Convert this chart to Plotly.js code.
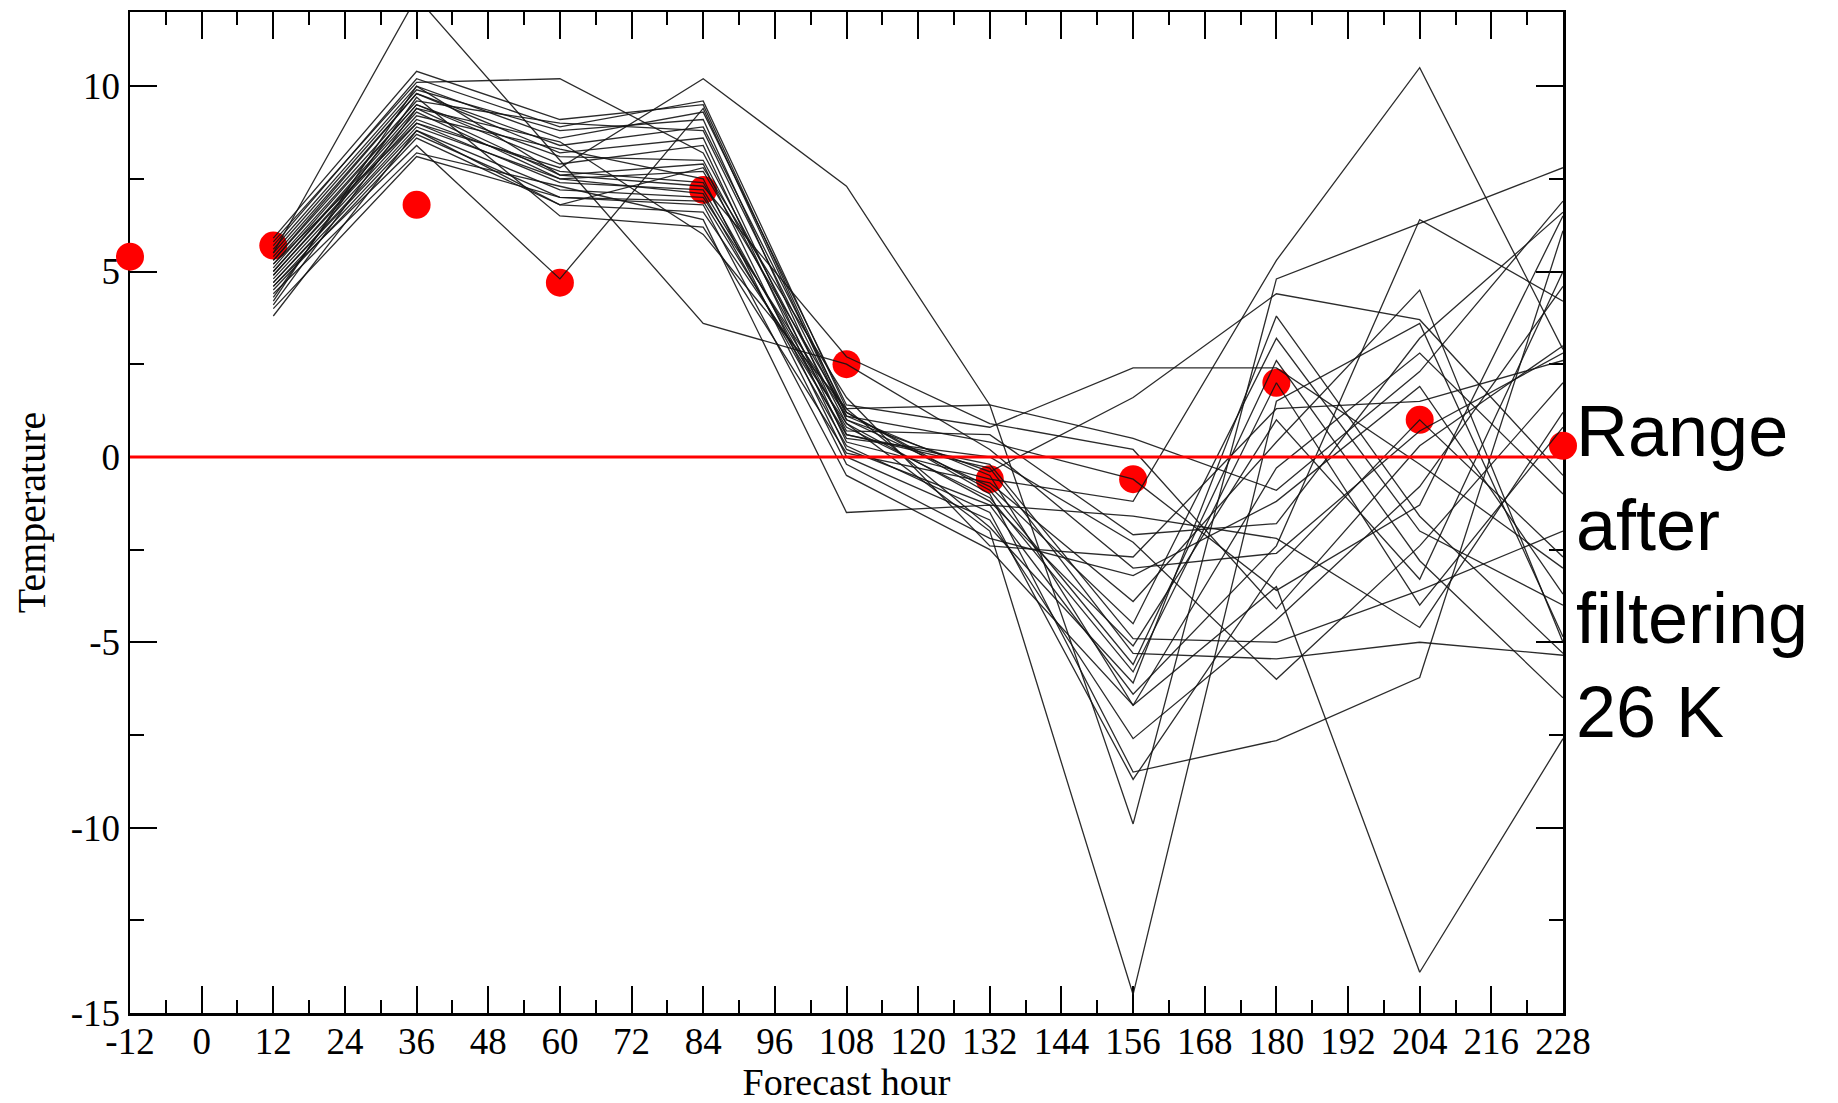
<!DOCTYPE html>
<html>
<head>
<meta charset="utf-8">
<script src="https://cdn.plot.ly/plotly-3.0.1.min.js"></script>
<style>html,body{margin:0;padding:0;background:#fff;}#chart{width:1838px;height:1103px;}</style>
</head>
<body>
<div id="chart"></div>
<script>
// Forecast hours of the ensemble members
const memberHours = [12, 36, 60, 84, 108, 132, 156, 180, 204, 228];
// Ensemble members (temperature at each forecast hour)
const m01 = [5.5, 12.4, 8.0, 3.6, 2.5, 0.2, -3.0, -2.6, 0.7, 2.8];
const m02 = [5.2, 9.0, 7.8, 10.2, 7.3, 1.4, -9.9, 4.8, 6.3, 7.8];
const m03 = [4.6, 8.4, 4.8, 9.4, 1.0, -0.8, -4.5, 3.2, -2.0, -4.0];
const m04 = [5.9, 10.4, 9.1, 9.5, 1.1, -0.5, -6.7, -3.5, -13.9, -7.6];
const m05 = [5.8, 10.1, 10.2, 8.2, 0.9, -2.0, -14.5, 1.5, 3.6, -4.85];
const m06 = [5.7, 10.2, 8.9, 9.6, 1.3, 1.4, 0.5, -0.9, 2.3, 6.9];
const m07 = [5.6, 10.0, 8.6, 9.3, 1.4, 0.8, 2.4, 2.4, -0.2, -3.0];
const m08 = [5.5, 9.9, 8.8, 9.1, 0.6, -0.3, -5.3, -5.45, -5.0, -5.35];
const m09 = [5.4, 9.8, 8.4, 8.9, 1.2, -1.0, -8.5, -7.65, -5.95, 6.1];
const m10 = [5.3, 9.8, 8.2, 8.6, 0.4, -0.6, -1.2, 5.3, 10.5, 2.9];
const m11 = [5.3, 9.6, 9.0, 8.8, 1.0, -0.4, 1.6, 4.4, 3.7, -0.5];
const m12 = [5.2, 9.5, 7.9, 8.4, 0.2, -1.3, -6.4, -2.4, 6.4, 4.2];
const m13 = [5.1, 9.5, 8.1, 8.0, 0.7, 0.6, -2.1, -1.8, 3.2, 6.6];
const m14 = [5.0, 9.4, 7.6, 7.9, 0.0, -1.7, -7.6, -4.4, -0.8, 4.6];
const m15 = [5.0, 9.3, 7.5, 7.7, 1.2, -0.9, -5.6, 2.6, -2.8, -6.5];
const m16 = [4.9, 9.2, 8.3, 7.5, -0.2, -2.2, -3.2, -1.2, 1.9, -3.7];
const m17 = [4.9, 9.1, 7.7, 7.4, 0.5, 0.0, -2.3, -6.0, -2.4, 2.0];
const m18 = [4.8, 9.0, 7.4, 7.2, 0.8, -1.1, -5.8, 2.0, -4.0, 0.8];
const m19 = [4.7, 8.9, 7.5, 7.1, 0.3, -1.5, -8.7, -3.0, 1.0, -2.7];
const m20 = [4.7, 8.8, 7.2, 7.0, 1.1, 0.4, -0.6, -3.6, -1.3, 6.5];
const m21 = [4.6, 8.7, 7.0, 6.8, -0.5, -2.5, -6.7, -0.3, 2.8, -1.0];
const m22 = [4.5, 8.6, 6.8, 6.6, 0.9, -1.2, -5.1, 1.0, -3.3, 5.0];
const m23 = [4.4, 8.2, 7.3, 6.4, -1.5, -1.3, -1.6, -2.2, -4.6, 1.2];
const m24 = [4.3, 9.7, 6.5, 6.2, 0.1, -0.7, -3.9, 0.4, 4.5, -5.0];
const m25 = [4.2, 10.0, 7.6, 7.3, 2.7, 0.9, 0.2, -4.1, 0.3, 3.0];
const m26 = [4.1, 9.4, 8.5, 6.0, 1.3, -1.9, -6.1, 3.8, -1.6, -5.3];
const m27 = [4.0, 8.1, 7.0, 6.9, 0.6, -0.2, -4.9, -5.0, -3.6, -2.0];
const m28 = [3.8, 8.8, 6.8, 7.8, 1.6, -2.4, -2.7, 1.3, 1.5, 2.6];
const members = [m01, m02, m03, m04, m05, m06, m07, m08, m09, m10, m11, m12, m13, m14,
                 m15, m16, m17, m18, m19, m20, m21, m22, m23, m24, m25, m26, m27, m28];

// Observations (red dots)
const obsHours = [-12, 12, 36, 60, 84, 108, 132, 156, 180, 204, 228];
const obsTemp = [5.4, 5.7, 6.8, 4.7, 7.2, 2.5, -0.6, -0.6, 2.0, 1.0, 0.3];

// Zero reference line
const zeroHours = [-12, 228];
const zeroTemp = [0, 0];

// Tick labels
const xTickVals = [-12, 0, 12, 24, 36, 48, 60, 72, 84, 96, 108, 120, 132, 144, 156, 168, 180, 192, 204, 216, 228];
const xTickText = ["-12", "0", "12", "24", "36", "48", "60", "72", "84", "96", "108", "120", "132", "144", "156", "168", "180", "192", "204", "216", "228"];
const yTickVals = [-15, -10, -5, 0, 5, 10];
const yTickText = ["-15", "-10", "-5", "0", "5", "10"];

const annotationText = "Range<br>after<br>filtering<br>26 K";

const traces = [];
traces.push({
  x: obsHours, y: obsTemp, type: 'scatter', mode: 'markers',
  marker: {color: '#ff0000', size: 28, line: {width: 0}},
  cliponaxis: false, showlegend: false, hoverinfo: 'x+y'
});
members.forEach(function (m, i) {
  traces.push({
    x: memberHours, y: m, type: 'scatter', mode: 'lines',
    line: {color: 'rgba(20,20,20,0.9)', width: 1.3},
    showlegend: false, name: 'member ' + (i + 1)
  });
});
traces.push({
  x: zeroHours, y: zeroTemp, type: 'scatter', mode: 'lines',
  line: {color: '#ff0000', width: 3}, showlegend: false, hoverinfo: 'skip'
});

const tickFont = {family: '"Liberation Serif", "Times New Roman", serif', size: 37, color: '#000'};
const titleFont = {family: '"Liberation Serif", "Times New Roman", serif', size: 40, color: '#000'};
const xTitleFont = {family: '"Liberation Serif", "Times New Roman", serif', size: 38, color: '#000'};

const layout = {
  width: 1838, height: 1103,
  margin: {l: 130, r: 275, t: 12, b: 90, pad: 0},
  paper_bgcolor: '#fff', plot_bgcolor: '#fff',
  showlegend: false,
  xaxis: {
    range: [-12, 228], autorange: false,
    tickmode: 'array', tickvals: xTickVals, ticktext: xTickText,
    ticks: 'inside', ticklen: 27, tickwidth: 2, tickcolor: '#000',
    ticklabelstandoff: -6,
    minor: {tickmode: 'linear', tick0: -12, dtick: 6, ticks: 'inside', ticklen: 13, tickwidth: 2, tickcolor: '#000', showgrid: false},
    showline: true, linecolor: '#000', linewidth: 2.5, mirror: 'ticks',
    showgrid: false, zeroline: false, layer: 'below traces',
    tickfont: tickFont,
    title: {text: 'Forecast hour', font: xTitleFont, standoff: 16}
  },
  yaxis: {
    range: [-15, 12], autorange: false,
    tickmode: 'array', tickvals: yTickVals, ticktext: yTickText,
    ticks: 'inside', ticklen: 27, tickwidth: 2, tickcolor: '#000',
    minor: {tickmode: 'linear', tick0: -15, dtick: 2.5, ticks: 'inside', ticklen: 14, tickwidth: 2, tickcolor: '#000', showgrid: false},
    showline: true, linecolor: '#000', linewidth: 2.5, mirror: 'ticks',
    showgrid: false, zeroline: false, layer: 'below traces',
    tickfont: tickFont,
    title: {text: 'Temperature', font: titleFont, standoff: 13}
  },
  annotations: [{
    text: annotationText, xref: 'paper', yref: 'paper',
    x: 1.0085, y: 0.441, xanchor: 'left', yanchor: 'middle', align: 'left',
    showarrow: false, borderpad: 0,
    font: {family: '"Liberation Sans", Arial, sans-serif', size: 72, color: '#000'}
  }]
};

Plotly.newPlot('chart', traces, layout, {staticPlot: true, displayModeBar: false});
</script>
</body>
</html>
